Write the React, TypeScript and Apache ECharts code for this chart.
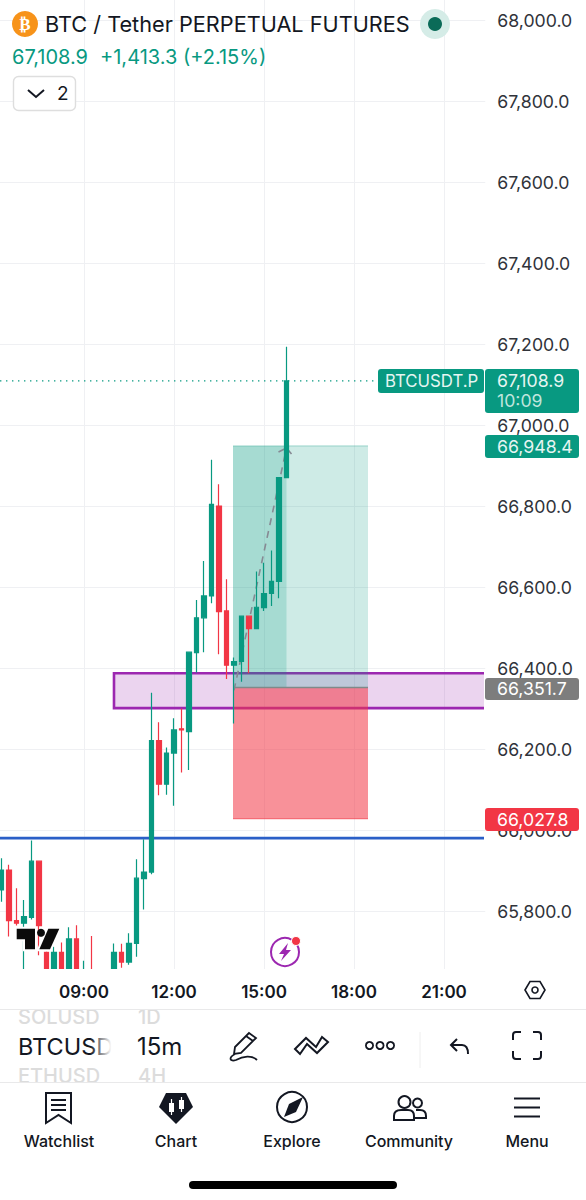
import React, { useEffect, useRef } from "react";
import * as echarts from "echarts";

const FONT = "Inter, 'Noto Sans', sans-serif";
const GREEN = "#089981";
const RED = "#F23645";

// 15-minute candles starting at 06:15
const categories: string[] = [];
for (let m = 6 * 60 + 15, i = 0; i < 65; i++, m += 15) {
  categories.push(String(Math.floor(m / 60)).padStart(2, "0") + ":" + String(m % 60).padStart(2, "0"));
}
const timeTicks = ["09:00", "12:00", "15:00", "18:00", "21:00"];
const hiddenPriceTicks = [65600, 68200];

const opens = [65852, 65901, 65776, 65770, 65784, 65923, 65698, 65625, 65698, 65625, 65731, 65625, 65650, 65630, 65630, 65625, 65698, 65674, 65720, 65880, 65896, 66221, 66113, 66190, 66250, 66243, 66438, 66524, 66578, 66800, 66541, 66407, 66416, 66528, 66497, 66549, 66584, 66614, 66870];
const closes = [65901, 65776, 65770, 65786, 65923, 65764, 65625, 65698, 65625, 65731, 65625, 65650, 65625, 65620, 65620, 65698, 65674, 65720, 65881, 65896, 66221, 66113, 66190, 66247, 66247, 66439, 66524, 66578, 66804, 66539, 66407, 66416, 66528, 66497, 66550, 66584, 66614, 66870, 67108.9];
const lows = [65823, 65737, 65764, 65620, 65779, 65691, 65615, 65615, 65615, 65615, 65615, 65615, 65615, 65610, 65610, 65615, 65660, 65667, 65687, 65804, 65891, 66086, 66087, 66060, 66142, 66148, 66389, 66439, 66560, 66434, 66373, 66263, 66366, 66387, 66497, 66541, 66553, 66572, 66870];
const highs = [65930, 65914, 65856, 65827, 65974, 65923, 65700, 65712, 65722, 65760, 65765, 65677, 65738, 65640, 65640, 65720, 65719, 65745, 65928, 65977, 66339, 66266, 66204, 66276, 66300, 66439, 66568, 66664, 66914, 66854, 66619, 66426, 66528, 66528, 66638, 66660, 66690, 66870, 67193];

const lastPrice = 67108.9;
const targetPrice = 66948.4;
const entryPrice = 66351.7;
const stopPrice = 66027.8;
const supportLine = 65980;
const zoneTop = 66387;
const zoneBottom = 66301;
const zoneStartIdx = 15;
const posStartIdx = 31;
const posFillIdx = 38;
const posEndIdx = 49;
const pathX = [31, 38];
const pathY = [66345, 66943];

const shapes: Record<string, string> = {
  pen: "M249 1033 L256 1038 L241 1053 L234 1054 L235 1047 Z M246 1036 L253 1041 M235 1054 C228 1058 230 1062 236 1060 C243 1056 252 1055 257 1060",
  swirl: "M295 1049 L306 1038 L316 1047 L322 1037 L328 1042 L317 1053 L307 1044 L300 1054 Z",
  undo: "M457 1039 L451 1045 L457 1051 M451 1045 L462 1045 C466 1045 468 1048 468 1054",
  frame: "M513 1040 L513 1035 Q513 1032 516 1032 L521 1032 M533 1032 L538 1032 Q541 1032 541 1035 L541 1040 M541 1051 L541 1056 Q541 1059 538 1059 L533 1059 M521 1059 L516 1059 Q513 1059 513 1056 L513 1051",
  bookmark: "M46 1093 L71 1093 L71 1123 L58.5 1115 L46 1123 Z M51 1100 L66 1100 M51 1105 L66 1105 M51 1110 L66 1110",
  community: "M394 1120 L394 1116 Q394 1110 401 1110 L408 1110 Q414 1110 414 1116 L414 1120 Z M416 1110 L420 1110 Q426 1110 426 1116 L426 1118 L415 1118",
  chevron: "M28 90 L36 97 L44 90",
};
Object.keys(shapes).forEach((k) => {
  echarts.graphic.registerShape("ic_" + k, echarts.graphic.extendPath(shapes[k] as any, {}) as any);
});

function txt(x: number, y: number, text: string, fontSize: number, fill: string, extra: any = {}, z = 30) {
  return {
    type: "text", x, y, z,
    style: { text, fontSize, fill, fontFamily: FONT, textVerticalAlign: "middle", verticalAlign: "middle", align: "left", ...extra },
  };
}
function ic(name: string, extra: any = {}) {
  return { type: "ic_" + name, x: 0, y: 0, z: 30, style: { stroke: "#131722", fill: "none", lineWidth: 2, ...extra } };
}
function tag(x: number, y: number, w: number, h: number, fill: string) {
  return { type: "rect", z: 15, shape: { x, y, width: w, height: h, r: 3 }, style: { fill } };
}
function hline(x1: number, x2: number, y: number, stroke = "#e9e9ea") {
  return { type: "line", z: 30, shape: { x1, y1: y, x2, y2: y }, style: { stroke, lineWidth: 1 } };
}

function renderOverlay(params: any, api: any) {
  const right = 484;
  const left = 0;
  const pt = (i: number, p: number) => api.coord([i, p]);
  const yOf = (p: number) => pt(0, p)[1];
  const xOf = (i: number) => pt(i, entryPrice)[0];
  const rect = (x1: number, y1: number, x2: number, y2: number, fill: string) => ({
    type: "rect", shape: { x: x1, y: y1, width: x2 - x1, height: y2 - y1 }, style: { fill },
  });
  const line = (pts: number[][], stroke: string, lineWidth: number, lineDash?: number[]) => ({
    type: "polyline", shape: { points: pts }, style: { stroke, fill: null, lineWidth, lineDash },
  });
  const zL = xOf(zoneStartIdx), zT = yOf(zoneTop), zB = yOf(zoneBottom);
  const pL = xOf(posStartIdx) - 1, pF = xOf(posFillIdx), pR = xOf(posEndIdx) - 1;
  const tY = yOf(targetPrice), eY = yOf(entryPrice), sY = yOf(stopPrice);
  const tip = pt(pathX[1], pathY[1]);
  return {
    type: "group",
    children: [
      line([[left, yOf(lastPrice)], [right, yOf(lastPrice)]], GREEN, 1.4, [1.4, 4.6]),
      line([[left, yOf(supportLine)], [right, yOf(supportLine)]], "#2B5FC7", 2.6),
      rect(zL, zT, right, zB, "rgba(156,39,176,0.2)"),
      line([[right, zT], [zL, zT], [zL, zB], [right, zB]], "#9C27B0", 2.6),
      rect(pL, tY, pR, eY, "rgba(8,153,129,0.2)"),
      rect(pL, tY, pF, eY, "rgba(8,153,129,0.2)"),
      rect(pL, eY, pR, sY, "rgba(242,54,69,0.55)"),
      line([[pL, tY], [pR, tY]], "rgba(8,153,129,0.35)", 1),
      line([[pL, sY], [pR, sY]], "rgba(242,54,69,0.7)", 1),
      line([[pL, eY], [pR, eY]], "#7f8a8a", 1.4),
      line([pt(pathX[0], pathY[0]), tip], "#868993", 1.6, [7, 6]),
      line([[tip[0] - 8, tip[1] + 4], tip, [tip[0] + 5, tip[1] + 6]], "#868993", 1.6),
    ],
  };
}

const logoT = [[16.7, 928.7], [35, 928.7], [35, 949.3], [25, 949.3], [25, 939.3], [16.7, 939.3]];
const logoSlash = [[48.3, 928.7], [59.3, 928.7], [50, 949.3], [39.3, 949.3]];

const chromeGraphics: any[] = [
  // panel below the plot
  { type: "rect", z: 10, shape: { x: 0, y: 969, width: 586, height: 231 }, style: { fill: "#fff" } },
  txt(18, 1017, "SOLUSD", 20, "#dcdcdc", { fontWeight: 500 }, 11),
  txt(138, 1017, "1D", 20, "#dcdcdc", { fontWeight: 500 }, 11),
  txt(18, 1076, "ETHUSD", 20, "#dcdcdc", { fontWeight: 500 }, 11),
  txt(138, 1076, "4H", 20, "#dcdcdc", { fontWeight: 500 }, 11),
  { type: "rect", z: 12, shape: { x: 0, y: 969, width: 586, height: 41 }, style: { fill: "#fff" } },
  { type: "rect", z: 12, shape: { x: 0, y: 1082, width: 586, height: 118 }, style: { fill: "#fff" } },
  hline(0, 586, 1009.5),
  hline(0, 586, 1082.5),
  txt(18, 1046, "BTCUSD", 23.5, "#131722"),
  {
    type: "rect", z: 31, shape: { x: 90, y: 1030, width: 24, height: 32 },
    style: { fill: new echarts.graphic.LinearGradient(0, 0, 1, 0, [{ offset: 0, color: "rgba(255,255,255,0)" }, { offset: 0.9, color: "#fff" }]) },
  },
  txt(137, 1046, "15m", 24, "#131722"),
  ic("pen", { lineWidth: 1.8 }),
  ic("swirl", { lineWidth: 2 }),
  { type: "circle", z: 30, shape: { cx: 369.5, cy: 1045.5, r: 3.6 }, style: { stroke: "#131722", fill: "none", lineWidth: 1.8 } },
  { type: "circle", z: 30, shape: { cx: 380, cy: 1045.5, r: 3.6 }, style: { stroke: "#131722", fill: "none", lineWidth: 1.8 } },
  { type: "circle", z: 30, shape: { cx: 390.5, cy: 1045.5, r: 3.6 }, style: { stroke: "#131722", fill: "none", lineWidth: 1.8 } },
  { type: "line", z: 30, shape: { x1: 420, y1: 1032, x2: 420, y2: 1068 }, style: { stroke: "#eeeeee", lineWidth: 1 } },
  ic("undo"),
  ic("frame"),
  // axis settings hexagon
  { type: "polygon", z: 30, shape: { points: [[525, 990], [530, 981.5], [540, 981.5], [545, 990], [540, 998.5], [530, 998.5]] }, style: { stroke: "#131722", fill: "none", lineWidth: 1.6 } },
  { type: "circle", z: 30, shape: { cx: 535, cy: 990, r: 3 }, style: { stroke: "#131722", fill: "none", lineWidth: 1.6 } },
  // bottom nav
  ic("bookmark"),
  { type: "polygon", z: 30, shape: { points: [[166, 1093], [186, 1093], [193, 1107], [176, 1124], [159, 1107]] }, style: { fill: "#131722" } },
  { type: "rect", z: 31, shape: { x: 169, y: 1103, width: 5, height: 9 }, style: { fill: "#fff" } },
  { type: "rect", z: 31, shape: { x: 179, y: 1100, width: 5, height: 9 }, style: { fill: "#fff" } },
  { type: "line", z: 31, shape: { x1: 171.5, y1: 1099, x2: 171.5, y2: 1115 }, style: { stroke: "#fff", lineWidth: 1.2 } },
  { type: "line", z: 31, shape: { x1: 181.5, y1: 1097, x2: 181.5, y2: 1112 }, style: { stroke: "#fff", lineWidth: 1.2 } },
  { type: "circle", z: 30, shape: { cx: 292, cy: 1107, r: 15 }, style: { stroke: "#131722", fill: "none", lineWidth: 2 } },
  { type: "polygon", z: 30, shape: { points: [[303, 1097], [296, 1112], [284, 1117], [289, 1104]] }, style: { fill: "#131722" } },
  ic("community"),
  { type: "circle", z: 30, shape: { cx: 404.5, cy: 1102, r: 6 }, style: { stroke: "#131722", fill: "none", lineWidth: 2 } },
  { type: "circle", z: 30, shape: { cx: 417.5, cy: 1103, r: 4.5 }, style: { stroke: "#131722", fill: "none", lineWidth: 2 } },
  { type: "line", z: 30, shape: { x1: 514, y1: 1098.5, x2: 540, y2: 1098.5 }, style: { stroke: "#131722", lineWidth: 2 } },
  { type: "line", z: 30, shape: { x1: 514, y1: 1107.5, x2: 540, y2: 1107.5 }, style: { stroke: "#131722", lineWidth: 2 } },
  { type: "line", z: 30, shape: { x1: 514, y1: 1116.5, x2: 540, y2: 1116.5 }, style: { stroke: "#131722", lineWidth: 2 } },
  txt(59, 1141, "Watchlist", 16, "#131722", { align: "center", fontWeight: 500 }),
  txt(176, 1141, "Chart", 16, "#131722", { align: "center", fontWeight: 500 }),
  txt(292, 1141, "Explore", 16, "#131722", { align: "center", fontWeight: 500 }),
  txt(409, 1141, "Community", 16, "#131722", { align: "center", fontWeight: 500 }),
  txt(527, 1141, "Menu", 16, "#131722", { align: "center", fontWeight: 500 }),
  { type: "rect", z: 30, shape: { x: 189, y: 1181, width: 208, height: 8, r: 4 }, style: { fill: "#000" } },

  // header
  { type: "circle", z: 30, shape: { cx: 25, cy: 24, r: 13 }, style: { fill: "#F7931A" } },
  txt(25, 24, "₿", 17, "#fff", { align: "center", fontFamily: "'DejaVu Sans'", fontWeight: 700 }),
  txt(45, 24, "BTC / Tether PERPETUAL FUTURES", 21.7, "#131722"),
  { type: "circle", z: 30, shape: { cx: 435, cy: 24, r: 15 }, style: { fill: "#D5ECE7" } },
  { type: "circle", z: 30, shape: { cx: 435, cy: 24, r: 7 }, style: { fill: "#0B6B58" } },
  txt(12, 57, "67,108.9", 20, GREEN),
  txt(100, 57, "+1,413.3 (+2.15%)", 20, GREEN),
  { type: "rect", z: 30, shape: { x: 13.5, y: 76.5, width: 62, height: 34, r: 5 }, style: { fill: "#fff", stroke: "#dedede", lineWidth: 1.4 } },
  ic("chevron", { lineWidth: 2 }),
  txt(57, 93, "2", 19, "#131722"),

  // price tags
  tag(378, 369, 106, 24, GREEN),
  txt(385, 381, "BTCUSDT.P", 16.8, "#E6F5F2", {}, 16),
  tag(485, 369, 94, 44, GREEN),
  txt(497, 380, "67,108.9", 17.7, "#E6F5F2", {}, 16),
  txt(497, 400, "10:09", 17.7, "#BFE5DD", {}, 16),
  tag(485, 435, 94, 23, GREEN),
  txt(497, 446, "66,948.4", 17.7, "#E6F5F2", {}, 16),
  tag(485, 678, 94, 22, "#7d7d7d"),
  txt(497, 688, "66,351.7", 17.7, "#fff", {}, 16),
  tag(485, 808, 94, 23, "#F23645"),
  txt(497, 819, "66,027.8", 17.7, "#fff", {}, 16),

  // TradingView mark, with a white halo behind it
  { type: "polygon", z: 13, shape: { points: logoT }, style: { fill: "#fff", stroke: "#fff", lineWidth: 4 } },
  { type: "polygon", z: 13, shape: { points: logoSlash }, style: { fill: "#fff", stroke: "#fff", lineWidth: 4 } },
  { type: "polygon", z: 14, shape: { points: logoT }, style: { fill: "#0b0b0b" } },
  { type: "polygon", z: 14, shape: { points: logoSlash }, style: { fill: "#0b0b0b" } },
  { type: "circle", z: 14, shape: { cx: 41, cy: 932.7, r: 4 }, style: { fill: "#0b0b0b" } },
  // lightning badge
  { type: "circle", z: 14, shape: { cx: 285, cy: 952, r: 14 }, style: { fill: "#fff", stroke: "#9C27B0", lineWidth: 2 } },
  { type: "polygon", z: 14, shape: { points: [[288, 943], [279, 954], [284, 954], [281, 961], [291, 950], [286, 950]] }, style: { fill: "#9C27B0" } },
  { type: "circle", z: 14, shape: { cx: 296, cy: 941, r: 4.5 }, style: { fill: "#F23645", stroke: "#fff", lineWidth: 1 } },
];

export default function App() {
  const ref = useRef<HTMLDivElement>(null);
  useEffect(() => {
    document.body.style.margin = "0";
    const chart = echarts.init(ref.current!, undefined, { renderer: "svg" });
    const isTime = (_: number, v: string) => timeTicks.includes(v);
    chart.setOption({
      animation: false,
      backgroundColor: "#fff",
      grid: { left: -2.25, top: -61, width: 487.5, height: 1053, containLabel: false, outerBoundsMode: "none" },
      xAxis: [
        {
          type: "category",
          data: categories,
          position: "bottom",
          axisLine: { show: false },
          axisTick: { show: false },
          axisLabel: { show: false },
          splitLine: { show: true, interval: isTime, alignWithLabel: true, lineStyle: { color: "#eff0f3", width: 1 } },
        },
        {
          type: "category",
          data: categories,
          position: "bottom",
          z: 20,
          axisLine: { show: false },
          axisTick: { show: false },
          axisLabel: { interval: isTime, margin: -9, fontSize: 17, fontWeight: 600, color: "#131722", fontFamily: FONT },
          splitLine: { show: false },
        },
      ],
      yAxis: {
        type: "value",
        position: "right",
        min: 65600,
        max: 68200,
        interval: 200,
        axisLine: { show: false },
        axisTick: { show: false },
        axisLabel: {
          margin: 12, fontSize: 17.7, color: "#30333a", fontFamily: FONT,
          formatter: (v: number) => hiddenPriceTicks.includes(v) ? "" : v.toLocaleString("en-US", { minimumFractionDigits: 1 }),
        },
        splitLine: { show: true, lineStyle: { color: "#eff0f3", width: 1 } },
      },
      series: [
        { type: "custom", z: 1, clip: true, silent: true, data: [[0, entryPrice]], renderItem: renderOverlay },
        {
          type: "candlestick",
          z: 2,
          barWidth: 4.6,
          data: opens.map((o, i) => [o, closes[i], lows[i], highs[i]]),
          itemStyle: { color: GREEN, color0: RED, borderColor: GREEN, borderColor0: RED, borderWidth: 1.2 },
        },
      ],
      graphic: { elements: chromeGraphics },
    });
    return () => chart.dispose();
  }, []);
  return <div ref={ref} style={{ position: "absolute", left: 0, top: 0, width: 586, height: 1200 }} />;
}
